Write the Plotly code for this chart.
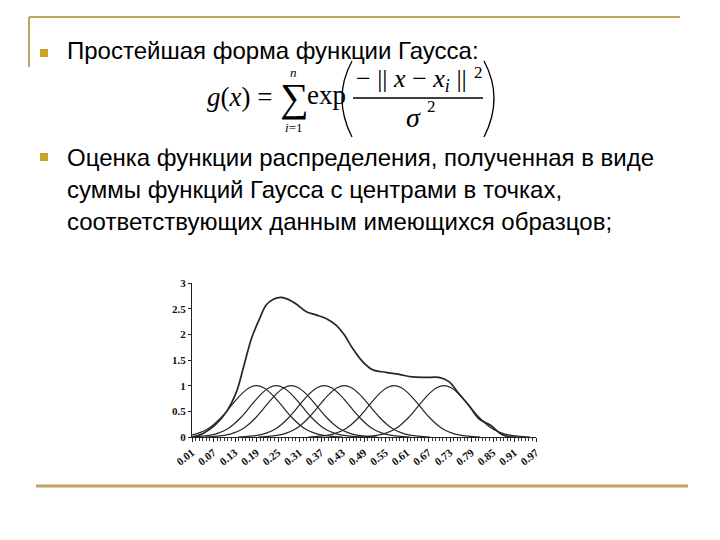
import plotly.graph_objects as go

# ---- data ----
# shape of one Gaussian bump (offset from centre -> height)
bump_offsets = [-0.24, -0.22, -0.20, -0.18, -0.16, -0.14, -0.12, -0.10, -0.08, -0.06, -0.04, -0.02, 0.0,
                0.02, 0.04, 0.06, 0.08, 0.10, 0.12, 0.14, 0.16, 0.18, 0.20, 0.22, 0.24]
bump_values = [0.00, 0.01, 0.02, 0.04, 0.08, 0.14, 0.24, 0.37, 0.53, 0.70, 0.85, 0.96, 1.00,
               0.96, 0.85, 0.70, 0.53, 0.37, 0.24, 0.14, 0.08, 0.04, 0.02, 0.01, 0.00]
# centres of the individual Gaussians
centers = [0.190, 0.245, 0.287, 0.379, 0.435, 0.574, 0.713]

# envelope (sum) curve
sum_x = [0.010, 0.041, 0.074, 0.106, 0.134, 0.153, 0.176, 0.199, 0.217, 0.236, 0.259, 0.282, 0.301,
         0.329, 0.356, 0.384, 0.412, 0.435, 0.458, 0.486, 0.514, 0.551, 0.588, 0.625, 0.662, 0.699,
         0.727, 0.754, 0.782, 0.810, 0.843, 0.870, 0.893, 0.917]
sum_y = [0.00, 0.07, 0.23, 0.49, 0.88, 1.34, 1.92, 2.31, 2.57, 2.68, 2.72, 2.67, 2.59,
         2.44, 2.38, 2.31, 2.18, 1.99, 1.73, 1.47, 1.31, 1.26, 1.22, 1.17, 1.16, 1.16,
         1.08, 0.85, 0.62, 0.36, 0.23, 0.07, 0.01, 0.00]

x_tickvals = [0.01, 0.07, 0.13, 0.19, 0.25, 0.31, 0.37, 0.43, 0.49, 0.55, 0.61, 0.67, 0.73, 0.79, 0.85, 0.91, 0.97]
x_ticktext = ["0.01", "0.07", "0.13", "0.19", "0.25", "0.31", "0.37", "0.43", "0.49", "0.55", "0.61",
              "0.67", "0.73", "0.79", "0.85", "0.91", "0.97"]
y_tickvals = [0, 0.5, 1, 1.5, 2, 2.5, 3]
y_ticktext = ["0", "0.5", "1", "1.5", "2", "2.5", "3"]

bullet1 = "Простейшая форма функции Гаусса:"
bullet2_lines = ["Оценка функции распределения, полученная в виде",
                 "суммы функций Гаусса с центрами в точках,",
                 "соответствующих данным имеющихся образцов;"]

# ---- layout helpers (page pixels -> paper); the page body adds an 8px offset ----
OFF = 8
W, H = 720 - OFF, 540 - OFF
def px(x):
    return (x - OFF) / W
def py(y):
    return 1 - (y - OFF) / H

fig = go.Figure()
line_col = "#262626"
for c in centers:
    fig.add_trace(go.Scatter(x=[c + o for o in bump_offsets], y=bump_values, mode="lines",
                             line=dict(color=line_col, width=1.2, shape="spline"),
                             hoverinfo="skip", showlegend=False))
fig.add_trace(go.Scatter(x=sum_x, y=sum_y, mode="lines",
                         line=dict(color=line_col, width=1.7, shape="spline"),
                         hoverinfo="skip", showlegend=False))

tick_font = dict(family="Liberation Serif", size=11, color="#111")
fig.update_layout(
    template="none",
    width=W, height=H, margin=dict(l=0, r=0, t=0, b=0, pad=0, autoexpand=False),
    paper_bgcolor="white", plot_bgcolor="white", showlegend=False,
    xaxis=dict(domain=[px(192), px(536)], range=[0.01, 0.97], showgrid=False, zeroline=False,
               automargin=False, showline=True, linecolor="#222", linewidth=1,
               tickmode="array", tickvals=x_tickvals, ticktext=["<b>%s</b>" % t for t in x_ticktext],
               ticks="outside", ticklen=4, tickcolor="#222", tickangle=-38, tickfont=tick_font,
               minor=dict(dtick=0.01, tick0=0.01, ticks="outside", ticklen=3, tickcolor="#333", showgrid=False)),
    yaxis=dict(domain=[py(437), py(283)], range=[0, 3], showgrid=False, zeroline=False,
               automargin=False, showline=True, linecolor="#222", linewidth=1,
               tickmode="array", tickvals=y_tickvals, ticktext=["<b>%s</b>" % t for t in y_ticktext],
               ticks="outside", ticklen=3, tickcolor="#222", tickfont=tick_font),
)

frame_col = "#C2A55C"
bullet_col = "#C9A227"
shapes = [
    dict(type="line", xref="paper", yref="paper", x0=px(29), x1=px(680), y0=py(17), y1=py(17),
         line=dict(color=frame_col, width=2)),
    dict(type="line", xref="paper", yref="paper", x0=px(29), x1=px(29), y0=py(17), y1=py(67),
         line=dict(color=frame_col, width=2)),
    dict(type="line", xref="paper", yref="paper", x0=px(36), x1=px(688), y0=py(486), y1=py(486),
         line=dict(color=frame_col, width=3)),
    dict(type="rect", xref="paper", yref="paper", x0=px(40), x1=px(48), y0=py(49), y1=py(57),
         fillcolor=bullet_col, line=dict(width=0)),
    dict(type="rect", xref="paper", yref="paper", x0=px(40), x1=px(48), y0=py(153), y1=py(161),
         fillcolor=bullet_col, line=dict(width=0)),
    # fraction bar
    dict(type="line", xref="paper", yref="paper", x0=px(353), x1=px(483), y0=py(98), y1=py(98),
         line=dict(color="black", width=1.5)),
    # big parentheses
    dict(type="path", xref="paper", yref="paper",
         path=f"M {px(352)},{py(61)} Q {px(332)},{py(98)} {px(352)},{py(137)}",
         line=dict(color="black", width=1.3)),
    dict(type="path", xref="paper", yref="paper",
         path=f"M {px(484)},{py(61)} Q {px(504)},{py(98)} {px(484)},{py(137)}",
         line=dict(color="black", width=1.3)),
]
fig.update_layout(shapes=shapes)

txt_font = dict(family="Liberation Sans", size=24, color="black")
ann = [dict(x=px(65), y=py(51), text=bullet1, xanchor="left", yanchor="middle", font=txt_font)]
for i, t in enumerate(bullet2_lines):
    ann.append(dict(x=px(65), y=py(157 + 32.5 * i), text=t, xanchor="left", yanchor="middle", font=txt_font))

serif = "Liberation Serif"
ann += [
    dict(x=px(205), y=py(97), text="<i>g</i>(<i>x</i>) =", xanchor="left", yanchor="middle",
         font=dict(family=serif, size=27, color="black")),
    dict(x=px(294), y=py(97), text="∑", xanchor="center", yanchor="middle",
         font=dict(family=serif, size=40, color="black")),
    dict(x=px(293), y=py(73), text="<i>n</i>", xanchor="center", yanchor="middle",
         font=dict(family=serif, size=13, color="black")),
    dict(x=px(293), y=py(127), text="<i>i</i>=1", xanchor="center", yanchor="middle",
         font=dict(family=serif, size=13, color="black")),
    dict(x=px(305), y=py(95), text="exp", xanchor="left", yanchor="middle",
         font=dict(family=serif, size=27, color="black")),
    dict(x=px(411), y=py(80), text="− || <i>x</i> − <i>x<sub>i</sub></i> ||", xanchor="center", yanchor="middle",
         font=dict(family=serif, size=26, color="black")),
    dict(x=px(478), y=py(72), text="2", xanchor="center", yanchor="middle",
         font=dict(family=serif, size=17, color="black")),
    dict(x=px(413), y=py(118), text="<i>σ</i>", xanchor="center", yanchor="middle",
         font=dict(family=serif, size=28, color="black")),
    dict(x=px(431), y=py(107), text="2", xanchor="center", yanchor="middle",
         font=dict(family=serif, size=17, color="black")),
]
for a in ann:
    a.update(xref="paper", yref="paper", showarrow=False)
fig.update_layout(annotations=ann)

fig.write_html("out.html")
